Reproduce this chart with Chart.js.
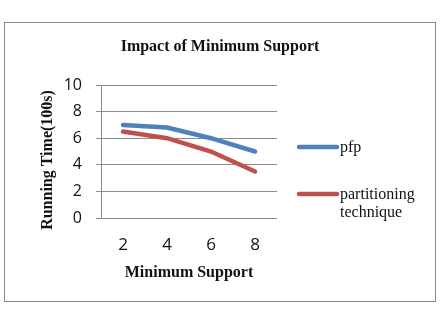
<!DOCTYPE html>
<html><head><meta charset="utf-8">
<script src="https://cdn.jsdelivr.net/npm/chart.js@4/dist/chart.umd.min.js"></script>
<style>
html,body{margin:0;padding:0;background:#fff;}
#wrap{position:relative;width:447px;height:310px;}
#box{position:absolute;left:4px;top:22px;width:430px;height:278px;border:1.5px solid #8c8c8c;}
canvas{position:absolute;left:0;top:0;}
</style></head>
<body><div id="wrap"><div id="box"></div><canvas id="c" width="447" height="310"></canvas></div>
<script>
const categories = ['2','4','6','8'];
const pfpValues = [7.0, 6.8, 6.0, 5.0];
const partitionValues = [6.5, 6.0, 5.0, 3.5];
const seriesLabels = [['pfp'], ['partitioning','technique']];
const chartTitle = 'Impact of Minimum Support';
const xTitle = 'Minimum Support';
const yTitle = 'Running Time(100s)';

const serif = '"Liberation Serif","Times New Roman",serif';
const sans = '"Open Sans","Liberation Sans",sans-serif';

const overlay = {
  id:'overlay',
  afterDraw(chart){
    const ctx = chart.ctx;
    ctx.save();
    ctx.fillStyle = '#111';
    ctx.font = 'bold 16px ' + serif;
    ctx.textAlign = 'center'; ctx.textBaseline = 'middle';
    ctx.fillText(chartTitle, 220, 47);
    // y title
    ctx.save();
    ctx.translate(48, 160);
    ctx.rotate(-Math.PI/2);
    ctx.font = 'bold 16px ' + serif;
    ctx.fillText(yTitle, 0, 0);
    ctx.restore();
    // legend
    const ys = [147, 194];
    chart.data.datasets.forEach((ds,i)=>{
      ctx.strokeStyle = ds.borderColor;
      ctx.lineWidth = 4.5; ctx.lineCap = 'round';
      ctx.beginPath(); ctx.moveTo(299, ys[i]); ctx.lineTo(337, ys[i]); ctx.stroke();
      ctx.font = '16px ' + serif;
      ctx.textAlign = 'left'; ctx.fillStyle = '#111';
      seriesLabels[i].forEach((t,j)=> ctx.fillText(t, 340, ys[i] + 1 + j*18));
    });
    ctx.restore();
  }
};

new Chart(document.getElementById('c'), {
  type:'line',
  data:{
    labels: categories,
    datasets:[
      {label:'pfp', data:pfpValues, borderColor:'#4F81BD', backgroundColor:'#4F81BD', borderWidth:4.5, pointRadius:0, tension:0, borderCapStyle:'round'},
      {label:'partitioning technique', data:partitionValues, borderColor:'#C0504D', backgroundColor:'#C0504D', borderWidth:4.5, pointRadius:0, tension:0, borderCapStyle:'round'}
    ]
  },
  options:{
    responsive:false, animation:false, devicePixelRatio:1,
    layout:{padding:{top:85, right:170, left:0, bottom:0}},
    plugins:{legend:{display:false}, title:{display:false}, tooltip:{enabled:false}},
    scales:{
      x:{
        offset:true,
        grid:{display:false, drawTicks:false},
        border:{display:false},
        ticks:{color:'#111', font:{family:sans, size:17}, padding:17},
        afterFit(s){ s.height = 92; },
        title:{display:true, text:xTitle, color:'#111', font:{family:serif, size:16, weight:'bold'}, padding:{top:0,bottom:28}}
      },
      y:{
        min:0, max:10,
        ticks:{stepSize:2, color:'#111', font:{family:sans, size:16}, padding:14},
        grid:{color:'#8c8c8c', lineWidth:1, tickLength:5, drawTicks:true},
        border:{display:true, color:'#8c8c8c', width:1},
        afterFit(s){ s.width = 101; }
      }
    }
  },
  plugins:[overlay]
});
</script></body></html>
